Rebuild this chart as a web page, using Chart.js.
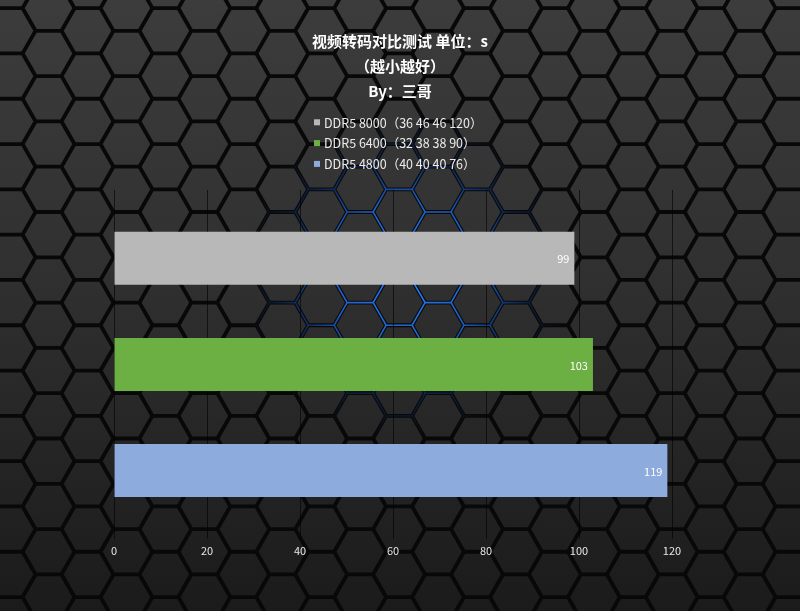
<!DOCTYPE html>
<html>
<head>
<meta charset="utf-8">
<script src="https://cdn.jsdelivr.net/npm/chart.js@4/dist/chart.umd.min.js"></script>
<style>
  html, body { margin: 0; padding: 0; background: #111; }
  #chart { display: block; }
</style>
</head>
<body>
<canvas id="chart" width="800" height="611"></canvas>
<script>
// --- data ---
const categories = ['视频转码'];
const seriesNames = ['DDR5 8000（36 46 46 120）', 'DDR5 6400（32 38 38 90）', 'DDR5 4800（40 40 40 76）'];
const ddr8000 = [99];
const ddr6400 = [103];
const ddr4800 = [119];
const xTicks = [0, 20, 40, 60, 80, 100, 120];
const titleLines = ['视频转码对比测试 单位：s', '（越小越好）', 'By：三哥'];

const barColors = ['#b8b8b8', '#6cb043', '#8eabdd'];
const fontFamily = '"Noto Sans CJK SC", "Noto Sans", sans-serif';

// hexagon background, blue glow around the middle
const hexBackground = {
    id: 'hexBackground',
    beforeDraw(chart) {
        const { ctx, width, height } = chart;
        const R = 26, colStep = 38.95, rowStep = 45.3, x0 = 87.5, y0 = 30.8;
        const h = rowStep / 2;
        const path = new Path2D();
        for (let k = -3; x0 + k * colStep < width + R * 2; k++) {
            const cx = x0 + k * colStep;
            const off = Math.abs(k) % 2 ? h : 0;
            for (let j = -2; y0 + off + j * rowStep < height + rowStep; j++) {
                const cy = y0 + off + j * rowStep;
                path.moveTo(cx - R, cy);
                path.lineTo(cx - R / 2, cy - h);
                path.lineTo(cx + R / 2, cy - h);
                path.lineTo(cx + R, cy);
                path.lineTo(cx + R / 2, cy + h);
                path.lineTo(cx - R / 2, cy + h);
                path.closePath();
            }
        }
        ctx.save();
        const fill = ctx.createLinearGradient(0, 0, 0, height);
        fill.addColorStop(0, '#3c3c3c');
        fill.addColorStop(0.45, '#303030');
        fill.addColorStop(1, '#1b1b1b');
        ctx.fillStyle = fill;
        ctx.fillRect(0, 0, width, height);

        ctx.strokeStyle = '#080808';
        ctx.lineWidth = 3.8;
        ctx.stroke(path);

        const glow = ctx.createRadialGradient(405, 275, 0, 405, 275, 165);
        glow.addColorStop(0, 'rgba(40,130,255,1)');
        glow.addColorStop(0.45, 'rgba(35,115,240,0.8)');
        glow.addColorStop(0.75, 'rgba(25,90,200,0.3)');
        glow.addColorStop(1, 'rgba(20,80,180,0)');
        ctx.strokeStyle = glow;
        ctx.lineWidth = 1.6;
        ctx.stroke(path);
        ctx.restore();
    }
};

// vertical legend, left aligned, under the title
const stackedLegend = {
    id: 'stackedLegend',
    afterDraw(chart) {
        const { ctx } = chart;
        const left = 314, top = 122.3, step = 20.8, box = 6;
        ctx.save();
        ctx.font = `12.5px ${fontFamily}`;
        ctx.textBaseline = 'middle';
        ctx.textAlign = 'left';
        chart.data.datasets.forEach((ds, i) => {
            const y = top + i * step;
            ctx.fillStyle = ds.backgroundColor;
            ctx.fillRect(left, y - box / 2, box, box);
            ctx.fillStyle = '#ececec';
            ctx.fillText(ds.label, left + 10, y + 0.5);
        });
        ctx.restore();
    }
};

// value label at the inner end of each bar
const valueLabels = {
    id: 'valueLabels',
    afterDatasetsDraw(chart) {
        const { ctx } = chart;
        ctx.save();
        ctx.font = `11px ${fontFamily}`;
        ctx.fillStyle = '#ffffff';
        ctx.textAlign = 'right';
        ctx.textBaseline = 'middle';
        chart.data.datasets.forEach((ds, i) => {
            chart.getDatasetMeta(i).data.forEach((bar, j) => {
                ctx.fillText(String(ds.data[j]), bar.x - 5, bar.y + 1);
            });
        });
        ctx.restore();
    }
};

const seriesValues = [ddr8000, ddr6400, ddr4800];

new Chart(document.getElementById('chart'), {
    type: 'bar',
    data: {
        labels: categories,
        datasets: seriesNames.map((name, i) => ({
            label: name,
            data: seriesValues[i],
            backgroundColor: barColors[i],
            borderWidth: 0,
            categoryPercentage: 0.9125,
            barPercentage: 0.5
        }))
    },
    options: {
        indexAxis: 'y',
        responsive: false,
        animation: false,
        layout: { padding: { left: 114, right: 114, top: 0, bottom: 49 } },
        scales: {
            x: {
                min: xTicks[0],
                max: xTicks[xTicks.length - 1],
                afterBuildTicks: (scale) => { scale.ticks = xTicks.map(v => ({ value: v })); },
                ticks: { color: '#e6e6e6', font: { family: fontFamily, size: 11 }, padding: 5 },
                grid: { color: 'rgba(0,0,0,0.6)', drawTicks: false },
                border: { display: false }
            },
            // invisible right-hand axis that only keeps the plot narrower than the title block
            y: {
                position: 'right',
                afterFit: (scale) => { scale.width = 14; },
                ticks: { display: false },
                grid: { display: false },
                border: { display: false }
            }
        },
        plugins: {
            legend: { display: false },
            tooltip: { enabled: false },
            title: {
                display: true,
                text: titleLines,
                color: '#ffffff',
                font: { family: fontFamily, size: 15, weight: 'bold', lineHeight: 25 / 15 },
                padding: { top: 29, bottom: 86 }
            }
        }
    },
    plugins: [hexBackground, stackedLegend, valueLabels]
});
</script>
</body>
</html>
